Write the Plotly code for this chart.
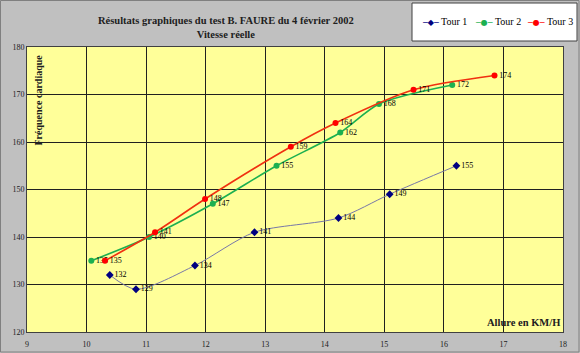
import plotly.graph_objects as go

tour1_x = [10.39, 10.83, 11.82, 12.82, 14.23, 15.09, 16.21]
tour1_y = [132, 129, 134, 141, 144, 149, 155]
tour2_x = [10.08, 11.05, 12.12, 13.19, 14.26, 14.91, 16.14]
tour2_y = [135, 140, 147, 155, 162, 168, 172]
tour3_x = [10.31, 11.15, 11.99, 13.43, 14.18, 15.49, 16.85]
tour3_y = [135, 141, 148, 159, 164, 171, 174]
series_names = ["Tour 1", "Tour 2", "Tour 3"]
series_colors = ["#000080", "#1CB050", "#FF0000"]
series_glyphs = ["◆", "●", "●"]

serif = "Liberation Serif, Times New Roman, serif"

fig = go.Figure()

def add(name, xs, ys, line_color, marker_color, symbol, msize, lw):
    fig.add_trace(go.Scatter(
        x=xs, y=ys, name=name, mode="lines+markers+text",
        text=[str(v) for v in ys], textposition="middle right",
        textfont=dict(family=serif, size=8, color="black"),
        line=dict(color=line_color, width=lw, shape="spline", smoothing=0.8),
        marker=dict(color=marker_color, symbol=symbol, size=msize),
        cliponaxis=False, showlegend=False,
    ))

add(series_names[0], tour1_x, tour1_y, "#7878A8", "#000080", "diamond", 6, 1)
add(series_names[1], tour2_x, tour2_y, "#1CB050", "#1CB050", "circle", 6, 1.6)
add(series_names[2], tour3_x, tour3_y, "#F03010", "#FF0000", "circle", 6, 1.6)

W, H = 536, 285
def px(x):
    return (x - 27) / W
def py(y):
    return (332 - y) / H

annotations = [
    dict(text="<b>Résultats graphiques du test B. FAURE du 4 février 2002<br>Vitesse réelle</b>",
         xref="paper", yref="paper", x=px(226), y=py(27), xanchor="center", yanchor="middle",
         showarrow=False, font=dict(family=serif, size=10.5, color="#202020")),
    dict(text="<b>Fréquence cardiaque</b>", textangle=-90, xref="paper", yref="paper",
         x=px(38), y=py(53), xanchor="center", yanchor="top", showarrow=False,
         font=dict(family=serif, size=10, color="#202020")),
    dict(text="<b>Allure en KM/H</b>", xref="paper", yref="paper",
         x=px(562), y=py(322), xanchor="right", yanchor="middle", showarrow=False,
         font=dict(family=serif, size=10.5, color="#202020")),
]
legend_x = [420, 473, 525]
for name, col, g, lx in zip(series_names, series_colors, series_glyphs, legend_x):
    annotations.append(dict(
        text=f"<span style='color:{col};font-size:8px;font-family:DejaVu Sans'>─{g}─</span> {name}",
        xref="paper", yref="paper", x=px(lx), y=py(22), xanchor="left", yanchor="middle",
        showarrow=False, font=dict(family=serif, size=10, color="black")))

fig.update_layout(
    width=580, height=353,
    margin=dict(l=27, r=17, t=47, b=21, autoexpand=False),
    paper_bgcolor="#C0C0C0",
    plot_bgcolor="#FFFF99",
    font=dict(family=serif, color="black"),
    showlegend=False,
    shapes=[
        dict(type="rect", xref="paper", yref="paper",
             x0=px(412), x1=px(577), y0=py(41), y1=py(3),
             fillcolor="white", line=dict(color="#404040", width=1), layer="below"),
        dict(type="rect", xref="paper", yref="paper",
             x0=px(0.5), x1=px(579), y0=py(352), y1=py(0.5),
             line=dict(color="#808080", width=1), fillcolor="rgba(0,0,0,0)"),
    ],
    annotations=annotations,
)

fig.update_xaxes(
    range=[9, 18], dtick=1, tick0=9, showgrid=True, gridcolor="#202020", gridwidth=1,
    showline=True, linecolor="#404040", linewidth=1, mirror=True, zeroline=False,
    ticks="", tickfont=dict(family=serif, size=8, color="#202020"), ticklabelstandoff=4,
)
fig.update_yaxes(
    range=[120, 180], dtick=10, showgrid=True, gridcolor="#202020", gridwidth=1,
    showline=True, linecolor="#404040", linewidth=1, mirror=True, zeroline=False,
    ticks="", tickfont=dict(family=serif, size=8, color="#202020"),
)

fig.write_html("out.html")
